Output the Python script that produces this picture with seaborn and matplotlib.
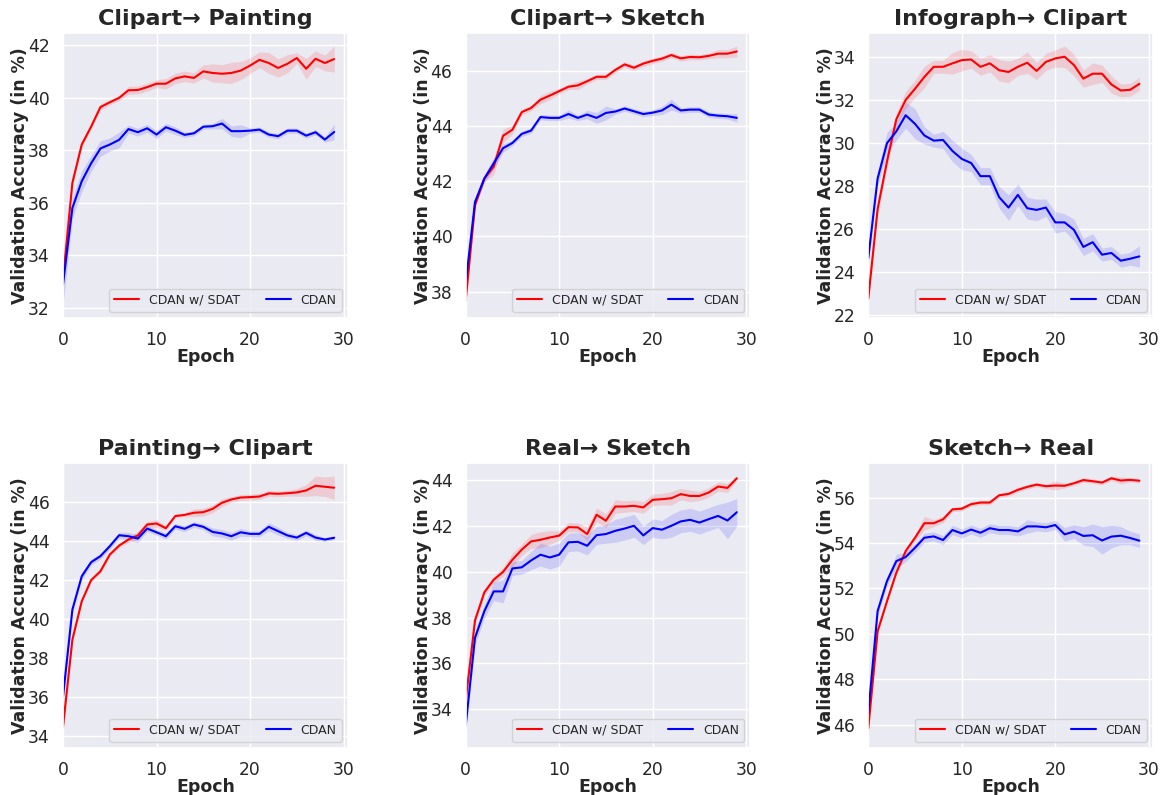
import pandas as pd
import matplotlib.pyplot as plt
import seaborn as sns
from matplotlib.ticker import MultipleLocator

sns.set_theme(style='darkgrid')

epochs = list(range(30))

# Clipart -> Painting
cp_sdat = [33.1, 36.76, 38.22, 38.9, 39.65, 39.83, 40.0, 40.29, 40.3, 40.41,
           40.54, 40.54, 40.74, 40.82, 40.76, 41.01, 40.95, 40.92, 40.95, 41.04,
           41.23, 41.45, 41.33, 41.14, 41.3, 41.52, 41.11, 41.49, 41.33, 41.48]
cp_sdat_err = [0.3, 0.15, 0.1, 0.1, 0.12, 0.1, 0.1, 0.15, 0.15, 0.15,
               0.15, 0.2, 0.2, 0.2, 0.2, 0.25, 0.35, 0.35, 0.4, 0.35,
               0.3, 0.3, 0.4, 0.35, 0.35, 0.2, 0.4, 0.3, 0.3, 0.5]
cp_cdan = [32.9, 35.8, 36.82, 37.5, 38.07, 38.22, 38.4, 38.81, 38.69, 38.84,
           38.6, 38.88, 38.75, 38.59, 38.65, 38.9, 38.92, 39.02, 38.73, 38.73,
           38.75, 38.79, 38.6, 38.54, 38.75, 38.75, 38.56, 38.69, 38.41, 38.7]
cp_cdan_err = [0.8, 0.4, 0.4, 0.3, 0.3, 0.25, 0.3, 0.15, 0.15, 0.15,
               0.15, 0.15, 0.15, 0.1, 0.1, 0.1, 0.1, 0.2, 0.2, 0.25,
               0.1, 0.1, 0.1, 0.1, 0.1, 0.1, 0.1, 0.1, 0.1, 0.3]

# Clipart -> Sketch
cs_sdat = [37.66, 41.13, 42.1, 42.53, 43.65, 43.87, 44.51, 44.66, 44.96, 45.11,
           45.27, 45.43, 45.48, 45.63, 45.79, 45.79, 46.04, 46.24, 46.12, 46.27,
           46.37, 46.45, 46.58, 46.46, 46.51, 46.5, 46.55, 46.63, 46.63, 46.71]
cs_sdat_err = [0.15, 0.1, 0.1, 0.3, 0.25, 0.15, 0.1, 0.1, 0.15, 0.15,
               0.1, 0.1, 0.15, 0.1, 0.1, 0.1, 0.1, 0.1, 0.1, 0.1,
               0.1, 0.1, 0.1, 0.1, 0.1, 0.1, 0.1, 0.15, 0.15, 0.2]
cs_cdan = [38.27, 41.25, 42.1, 42.65, 43.2, 43.39, 43.72, 43.84, 44.33, 44.3,
           44.3, 44.44, 44.3, 44.42, 44.3, 44.48, 44.53, 44.64, 44.54, 44.44,
           44.49, 44.57, 44.78, 44.57, 44.6, 44.6, 44.42, 44.38, 44.36, 44.3]
cs_cdan_err = [0.2, 0.15, 0.15, 0.2, 0.15, 0.1, 0.1, 0.1, 0.1, 0.1,
               0.1, 0.15, 0.1, 0.15, 0.2, 0.25, 0.1, 0.1, 0.1, 0.1,
               0.1, 0.15, 0.2, 0.1, 0.1, 0.1, 0.1, 0.1, 0.1, 0.15]

# Infograph -> Clipart
ic_sdat = [22.76, 26.92, 29.13, 31.09, 31.99, 32.51, 33.06, 33.53, 33.53, 33.69,
           33.84, 33.87, 33.53, 33.69, 33.37, 33.29, 33.53, 33.72, 33.34, 33.76,
           33.92, 34.0, 33.61, 32.98, 33.21, 33.21, 32.71, 32.43, 32.46, 32.74]
ic_sdat_err = [0.3, 0.3, 0.3, 0.3, 0.4, 0.4, 0.5, 0.3, 0.3, 0.5,
               0.5, 0.4, 0.4, 0.4, 0.5, 0.5, 0.4, 0.5, 0.4, 0.4,
               0.4, 0.5, 0.5, 0.4, 0.5, 0.4, 0.4, 0.3, 0.3, 0.3]
ic_cdan = [24.64, 28.34, 29.98, 30.53, 31.28, 30.88, 30.34, 30.1, 30.13, 29.62,
           29.25, 29.06, 28.45, 28.45, 27.47, 26.99, 27.58, 26.96, 26.88, 26.99,
           26.3, 26.3, 25.95, 25.16, 25.38, 24.8, 24.88, 24.52, 24.61, 24.72]
ic_cdan_err = [0.3, 0.3, 0.5, 0.4, 0.6, 0.7, 0.4, 0.3, 0.4, 0.5,
               0.5, 0.4, 0.4, 0.4, 0.5, 0.6, 0.5, 0.5, 0.5, 0.4,
               0.5, 0.4, 0.5, 0.4, 0.4, 0.3, 0.3, 0.3, 0.3, 0.5]

# Painting -> Clipart
pc_sdat = [34.52, 38.95, 40.91, 41.99, 42.45, 43.3, 43.76, 44.07, 44.28, 44.84,
           44.89, 44.65, 45.27, 45.33, 45.44, 45.47, 45.64, 45.95, 46.12, 46.22,
           46.24, 46.27, 46.43, 46.41, 46.44, 46.48, 46.58, 46.82, 46.77, 46.72]
pc_sdat_err = [0.45, 0.15, 0.1, 0.1, 0.1, 0.1, 0.1, 0.15, 0.2, 0.15,
               0.2, 0.1, 0.1, 0.1, 0.2, 0.2, 0.2, 0.2, 0.15, 0.15,
               0.15, 0.15, 0.15, 0.15, 0.15, 0.2, 0.3, 0.5, 0.5, 0.6]
pc_cdan = [36.05, 40.49, 42.19, 42.91, 43.22, 43.73, 44.29, 44.24, 44.12, 44.63,
           44.44, 44.24, 44.75, 44.62, 44.84, 44.72, 44.46, 44.38, 44.24, 44.44,
           44.36, 44.36, 44.72, 44.5, 44.28, 44.17, 44.41, 44.17, 44.07, 44.16]
pc_cdan_err = [0.3, 0.2, 0.2, 0.15, 0.15, 0.15, 0.15, 0.2, 0.2, 0.15,
               0.15, 0.15, 0.15, 0.15, 0.15, 0.15, 0.2, 0.2, 0.2, 0.2,
               0.15, 0.15, 0.2, 0.2, 0.15, 0.15, 0.15, 0.15, 0.1, 0.1]

# Real -> Sketch
rs_sdat = [34.36, 37.88, 39.1, 39.65, 39.99, 40.52, 40.96, 41.32, 41.39, 41.49,
           41.57, 41.94, 41.93, 41.64, 42.48, 42.22, 42.84, 42.84, 42.87, 42.8,
           43.13, 43.16, 43.2, 43.38, 43.3, 43.3, 43.45, 43.71, 43.65, 44.07]
rs_sdat_err = [0.3, 0.2, 0.15, 0.15, 0.2, 0.3, 0.25, 0.3, 0.35, 0.3,
               0.2, 0.2, 0.2, 0.3, 0.3, 0.3, 0.3, 0.25, 0.25, 0.25,
               0.25, 0.25, 0.3, 0.25, 0.25, 0.2, 0.2, 0.2, 0.2, 0.1]
rs_cdan = [33.28, 37.12, 38.28, 39.14, 39.14, 40.14, 40.19, 40.49, 40.74, 40.62,
           40.74, 41.28, 41.3, 41.13, 41.59, 41.64, 41.78, 41.88, 42.0, 41.58,
           41.9, 41.83, 42.0, 42.19, 42.26, 42.14, 42.29, 42.43, 42.23, 42.59]
rs_cdan_err = [0.4, 0.3, 0.3, 0.4, 0.5, 0.3, 0.3, 0.4, 0.5, 0.5,
               0.5, 0.4, 0.4, 0.4, 0.4, 0.4, 0.5, 0.5, 0.5, 0.4,
               0.4, 0.4, 0.5, 0.5, 0.5, 0.5, 0.5, 0.5, 0.8, 0.6]

# Sketch -> Real
sr_sdat = [45.84, 50.11, 51.43, 52.69, 53.64, 54.23, 54.87, 54.87, 55.04, 55.48,
           55.51, 55.71, 55.78, 55.78, 56.1, 56.16, 56.34, 56.47, 56.57, 56.5,
           56.53, 56.52, 56.63, 56.77, 56.72, 56.66, 56.85, 56.75, 56.78, 56.74]
sr_sdat_err = [0.3, 0.1, 0.1, 0.1, 0.15, 0.15, 0.3, 0.15, 0.15, 0.1,
               0.1, 0.1, 0.1, 0.1, 0.1, 0.1, 0.1, 0.1, 0.1, 0.1,
               0.2, 0.1, 0.1, 0.1, 0.1, 0.1, 0.1, 0.15, 0.1, 0.1]
sr_cdan = [46.5, 51.0, 52.32, 53.2, 53.38, 53.79, 54.23, 54.29, 54.13, 54.57,
           54.42, 54.59, 54.45, 54.65, 54.57, 54.57, 54.51, 54.73, 54.73, 54.69,
           54.79, 54.38, 54.5, 54.31, 54.34, 54.11, 54.28, 54.32, 54.22, 54.1]
sr_cdan_err = [0.3, 0.2, 0.2, 0.3, 0.2, 0.2, 0.2, 0.2, 0.2, 0.2,
               0.2, 0.2, 0.2, 0.2, 0.2, 0.2, 0.2, 0.3, 0.2, 0.2,
               0.2, 0.3, 0.3, 0.4, 0.5, 0.6, 0.5, 0.4, 0.3, 0.3]

titles = ['Clipart\u2192 Painting', 'Clipart\u2192 Sketch', 'Infograph\u2192 Clipart',
          'Painting\u2192 Clipart', 'Real\u2192 Sketch', 'Sketch\u2192 Real']
panels = [
    (cp_sdat, cp_sdat_err, cp_cdan, cp_cdan_err),
    (cs_sdat, cs_sdat_err, cs_cdan, cs_cdan_err),
    (ic_sdat, ic_sdat_err, ic_cdan, ic_cdan_err),
    (pc_sdat, pc_sdat_err, pc_cdan, pc_cdan_err),
    (rs_sdat, rs_sdat_err, rs_cdan, rs_cdan_err),
    (sr_sdat, sr_sdat_err, sr_cdan, sr_cdan_err),
]
palette = {'CDAN w/ SDAT': 'red', 'CDAN': 'blue'}

fig, axes = plt.subplots(2, 3, figsize=(11.63, 7.95), dpi=100)
fig.subplots_adjust(left=0.0542, right=0.9914, bottom=0.0591, top=0.9585,
                    wspace=0.414, hspace=0.509)

for ax, title, (s, s_err, c, c_err) in zip(axes.flat, titles, panels):
    df = pd.DataFrame({
        'Epoch': epochs + epochs,
        'acc': s + c,
        'method': ['CDAN w/ SDAT'] * 30 + ['CDAN'] * 30,
    })
    sns.lineplot(data=df, x='Epoch', y='acc', hue='method', palette=palette,
                 linewidth=1.5, ax=ax)
    # shaded band over runs
    for mean, err, col in [(s, s_err, 'red'), (c, c_err, 'blue')]:
        lo = [m - e for m, e in zip(mean, err)]
        hi = [m + e for m, e in zip(mean, err)]
        ax.fill_between(epochs, lo, hi, color=col, alpha=0.13, linewidth=0)
    ax.set_xlim(0, 30.45)
    ax.xaxis.set_major_locator(MultipleLocator(10))
    ax.yaxis.set_major_locator(MultipleLocator(2))
    ax.set_title(title, fontsize=16, fontweight='bold')
    ax.set_xlabel('Epoch', fontsize=12.5, fontweight='bold', labelpad=-1)
    ax.set_ylabel('Validation Accuracy (in %)', fontsize=12.5, fontweight='bold',
                  labelpad=-1)
    ax.tick_params(labelsize=12.3)
    ax.legend(loc='lower right', ncol=2, fontsize=9)

plt.savefig('out.png', dpi=100)
